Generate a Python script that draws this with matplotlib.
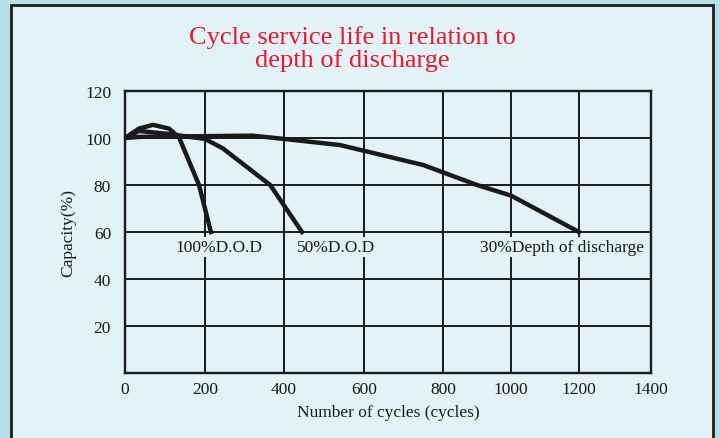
import numpy as np
import matplotlib
matplotlib.use("Agg")
import matplotlib.pyplot as plt
from matplotlib.patches import Rectangle

# ---- data ----
x_ticks = [0, 200, 400, 600, 800, 1000, 1200, 1400]
y_ticks = [20, 40, 60, 80, 100, 120]

dod100_x = [0, 35, 70, 110, 135, 185, 215]
dod100_y = [100, 104, 105.6, 104, 100.3, 80, 60]

dod50_x = [0, 35, 110, 200, 245, 365, 445]
dod50_y = [100, 103, 101.7, 99.6, 95.6, 80, 60]

dod30_x = [0, 40, 320, 400, 540, 750, 900, 1000, 1200]
dod30_y = [100, 100.5, 101, 99.6, 97, 88.5, 80, 75.5, 60]

labels = ["100%D.O.D", "50%D.O.D", "30%Depth of discharge"]

# hand-drawn (non-uniform) x grid of the original chart
grid_px = np.array([0, 80, 159, 239, 318, 386, 454, 526], dtype=float)
grid_val = np.array(x_ticks, dtype=float)


def fwd(x):
    x = np.asarray(x, dtype=float)
    y = np.interp(x, grid_val, grid_px)
    lo = x < grid_val[0]
    hi = x > grid_val[-1]
    y = np.where(lo, grid_px[0] + (x - grid_val[0]) * 0.4, y)
    y = np.where(hi, grid_px[-1] + (x - grid_val[-1]) * 0.36, y)
    return y


def inv(p):
    p = np.asarray(p, dtype=float)
    x = np.interp(p, grid_px, grid_val)
    lo = p < grid_px[0]
    hi = p > grid_px[-1]
    x = np.where(lo, grid_val[0] + (p - grid_px[0]) / 0.4, x)
    x = np.where(hi, grid_val[-1] + (p - grid_px[-1]) / 0.36, x)
    return x


W, H = 720, 439
outer_col = "#b6dfe8"
panel_col = "#e2f2f6"
serif = ["Liberation Serif", "DejaVu Serif"]

fig = plt.figure(figsize=(W / 100, H / 100), dpi=100)
fig.patch.set_facecolor(outer_col)
fig.patches.append(Rectangle((11 / W, -0.05), (713 - 11) / W, 1.05 - 6 / H,
                             transform=fig.transFigure, facecolor=panel_col,
                             edgecolor="#1e1e1e", linewidth=2, zorder=-10))

ax = fig.add_axes([125 / W, 1 - 374 / H, 526 / W, 282 / H])
ax.set_zorder(1)
ax.set_facecolor("none")
ax.set_xscale("function", functions=(fwd, inv))
ax.set_xlim(0, 1400)
ax.set_ylim(0, 120)
ax.set_xticks(x_ticks)
ax.set_xticklabels([str(v) for v in x_ticks])
ax.set_yticks(y_ticks)
ax.set_yticklabels([str(v) for v in y_ticks])
ax.minorticks_off()
ax.tick_params(length=0, labelsize=12.5)
ax.tick_params(axis="x", pad=6)
ax.tick_params(axis="y", pad=10)
for lab in ax.get_xticklabels() + ax.get_yticklabels():
    lab.set_fontfamily(serif)
    lab.set_color("#1a1a1a")
ax.grid(True, color="#1a1a1a", linewidth=1.4)
ax.set_axisbelow(True)
for s in ax.spines.values():
    s.set_color("#1a1a1a")
    s.set_linewidth(1.7)

lw = 3.2
c = "#1a1a1a"
ax.plot(dod30_x, dod30_y, color=c, lw=lw, solid_joinstyle="round", zorder=3)
ax.plot(dod50_x, dod50_y, color=c, lw=lw, solid_joinstyle="round", zorder=3)
ax.plot(dod100_x, dod100_y, color=c, lw=lw, solid_joinstyle="round", zorder=3)

bbox = dict(facecolor=panel_col, edgecolor="none", pad=1.5)
ax.text(125, 53.5, labels[0], fontsize=12.5, family=serif, va="center", ha="left",
        color=c, bbox=bbox, zorder=4)
ax.text(433, 53.5, labels[1], fontsize=12.5, family=serif, va="center", ha="left",
        color=c, bbox=bbox, zorder=4)
ax.text(908, 53.5, labels[2], fontsize=12.5, family=serif, va="center", ha="left",
        color=c, bbox=bbox, zorder=4)

ax.set_xlabel("Number of cycles (cycles)", fontsize=12.5, family=serif,
              color=c, labelpad=5)
ax.set_ylabel("Capacity(%)", fontsize=12.5, family=serif, color=c, labelpad=6)

fig.text(352 / W, 1 - 49 / H, "Cycle service life in relation to\ndepth of discharge",
         ha="center", va="center", fontsize=19, family=serif, color="#e8192c",
         linespacing=1.0)

fig.savefig("out.png", dpi=100, facecolor=fig.get_facecolor())
